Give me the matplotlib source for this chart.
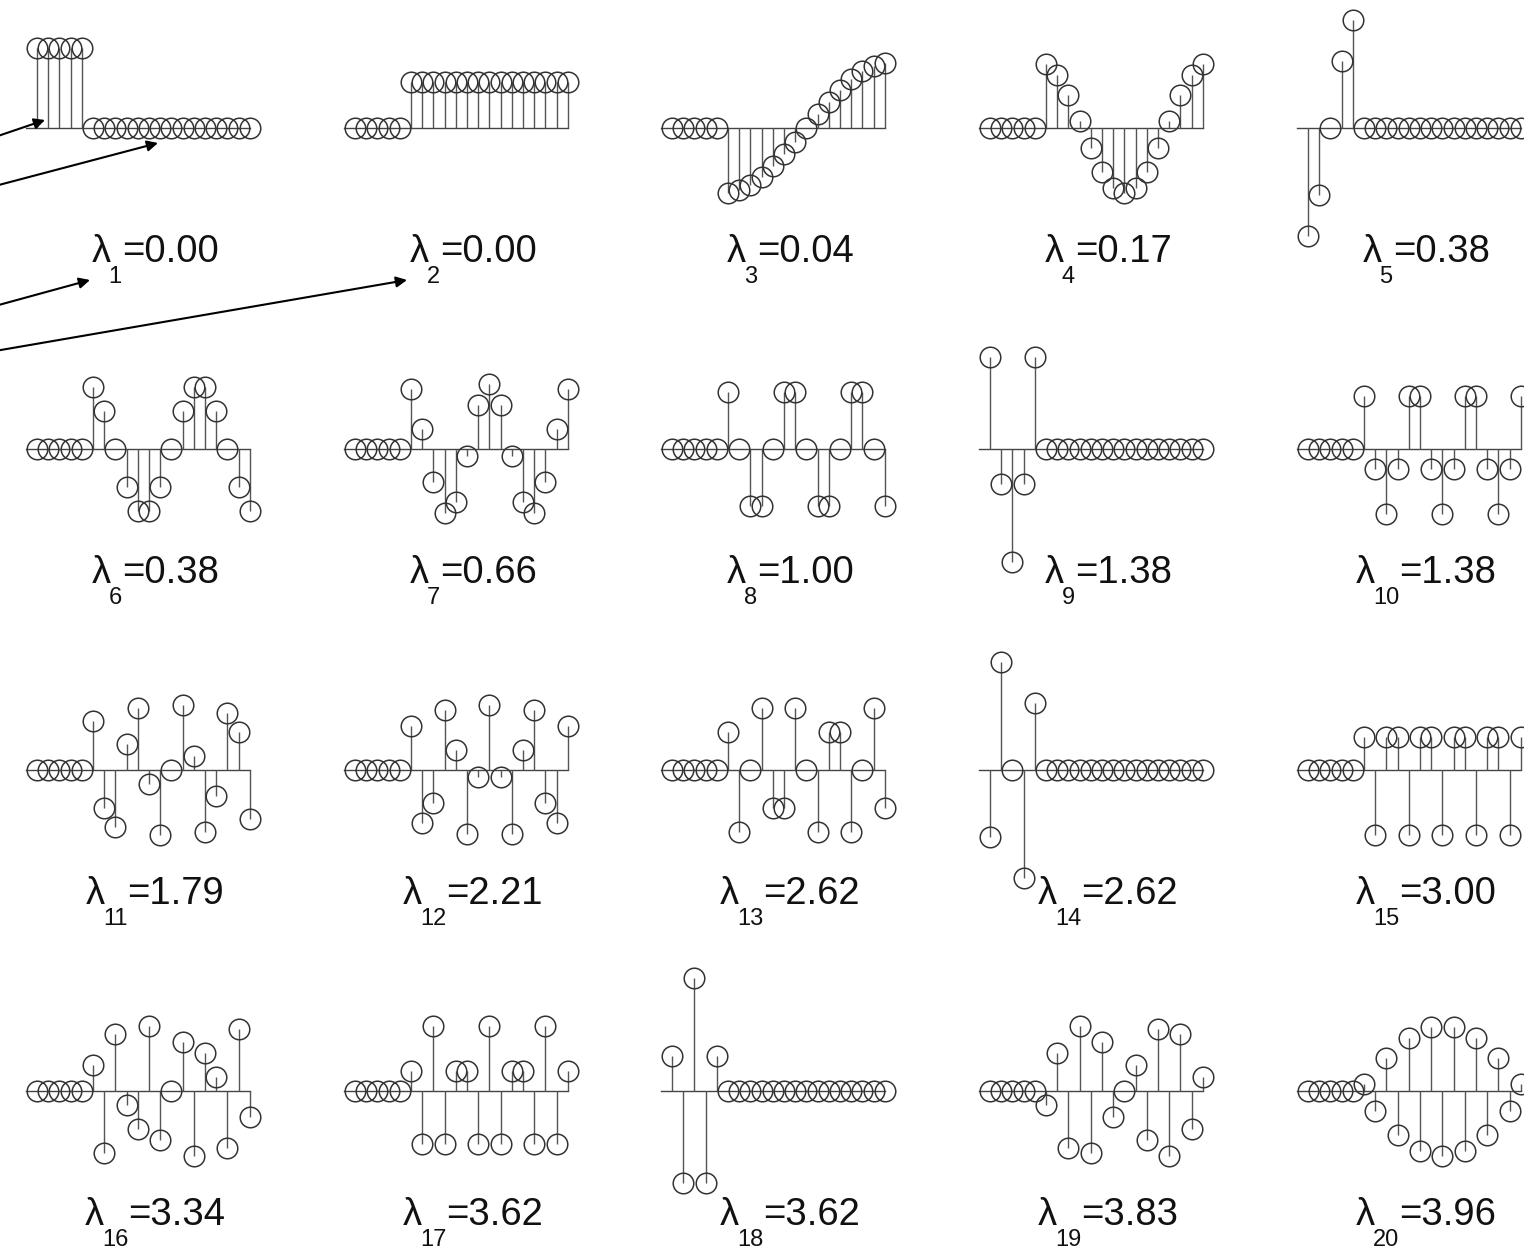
import matplotlib
matplotlib.use("Agg")
import matplotlib.pyplot as plt
import numpy as np

plt.rcParams['font.family'] = ['Liberation Sans', 'DejaVu Sans']

# Laplacian eigenvalues, ascending
eigenvalues = [0.00, 0.00, 0.04, 0.17, 0.38, 0.38, 0.66, 1.00, 1.38, 1.38,
               1.79, 2.21, 2.62, 2.62, 3.00, 3.34, 3.62, 3.62, 3.83, 3.96]

# eigenvectors: nodes 1-5 form the short chain, nodes 6-20 the long one
v1 = [0.447, 0.447, 0.447, 0.447, 0.447, 0, 0, 0, 0, 0,
      0, 0, 0, 0, 0, 0, 0, 0, 0, 0]
v2 = [0, 0, 0, 0, 0, 0.258, 0.258, 0.258, 0.258, 0.258,
      0.258, 0.258, 0.258, 0.258, 0.258, 0.258, 0.258, 0.258, 0.258, 0.258]
v3 = [0, 0, 0, 0, 0, -0.363, -0.347, -0.316, -0.271, -0.215,
      -0.148, -0.076, 0, 0.076, 0.148, 0.215, 0.271, 0.316, 0.347, 0.363]
v4 = [0, 0, 0, 0, 0, 0.357, 0.295, 0.183, 0.038, -0.113,
      -0.244, -0.334, -0.365, -0.334, -0.244, -0.113, 0.038, 0.183, 0.295, 0.357]
v5 = [-0.601, -0.372, 0, 0.372, 0.601, 0, 0, 0, 0, 0,
      0, 0, 0, 0, 0, 0, 0, 0, 0, 0]
v6 = [0, 0, 0, 0, 0, 0.347, 0.215, 0, -0.215, -0.347,
      -0.347, -0.215, 0, 0.215, 0.347, 0.347, 0.215, 0, -0.215, -0.347]
v7 = [0, 0, 0, 0, 0, 0.334, 0.113, -0.183, -0.357, -0.295,
      -0.038, 0.244, 0.365, 0.244, -0.038, -0.295, -0.357, -0.183, 0.113, 0.334]
v8 = [0, 0, 0, 0, 0, 0.316, 0, -0.316, -0.316, 0,
      0.316, 0.316, 0, -0.316, -0.316, 0, 0.316, 0.316, 0, -0.316]
v9 = [0.512, -0.195, -0.632, -0.195, 0.512, 0, 0, 0, 0, 0,
      0, 0, 0, 0, 0, 0, 0, 0, 0, 0]
v10 = [0, 0, 0, 0, 0, 0.295, -0.113, -0.365, -0.113, 0.295,
       0.295, -0.113, -0.365, -0.113, 0.295, 0.295, -0.113, -0.365, -0.113, 0.295]
v11 = [0, 0, 0, 0, 0, 0.271, -0.215, -0.316, 0.148, 0.347,
       -0.076, -0.363, 0, 0.363, 0.076, -0.347, -0.148, 0.316, 0.215, -0.271]
v12 = [0, 0, 0, 0, 0, 0.244, -0.295, -0.183, 0.334, 0.113,
       -0.357, -0.038, 0.365, -0.038, -0.357, 0.113, 0.334, -0.183, -0.295, 0.244]
v13 = [0, 0, 0, 0, 0, 0.215, -0.347, 0, 0.347, -0.215,
       -0.215, 0.347, 0, -0.347, 0.215, 0.215, -0.347, 0, 0.347, -0.215]
v14 = [-0.372, 0.601, 0, -0.601, 0.372, 0, 0, 0, 0, 0,
       0, 0, 0, 0, 0, 0, 0, 0, 0, 0]
v15 = [0, 0, 0, 0, 0, 0.183, -0.365, 0.183, 0.183, -0.365,
       0.183, 0.183, -0.365, 0.183, 0.183, -0.365, 0.183, 0.183, -0.365, 0.183]
v16 = [0, 0, 0, 0, 0, 0.148, -0.347, 0.316, -0.076, -0.215,
       0.363, -0.271, 0, 0.271, -0.363, 0.215, 0.076, -0.316, 0.347, -0.148]
v17 = [0, 0, 0, 0, 0, 0.113, -0.295, 0.365, -0.295, 0.113,
       0.113, -0.295, 0.365, -0.295, 0.113, 0.113, -0.295, 0.365, -0.295, 0.113]
v18 = [0.195, -0.512, 0.632, -0.512, 0.195, 0, 0, 0, 0, 0,
       0, 0, 0, 0, 0, 0, 0, 0, 0, 0]
v19 = [0, 0, 0, 0, 0, -0.076, 0.215, -0.316, 0.363, -0.347,
       0.271, -0.148, 0, 0.148, -0.271, 0.347, -0.363, 0.316, -0.215, 0.076]
v20 = [0, 0, 0, 0, 0, 0.038, -0.113, 0.183, -0.244, 0.295,
       -0.334, 0.357, -0.365, 0.357, -0.334, 0.295, -0.244, 0.183, -0.113, 0.038]

vectors = [v1, v2, v3, v4, v5, v6, v7, v8, v9, v10,
           v11, v12, v13, v14, v15, v16, v17, v18, v19, v20]

W, H = 1524, 1249
fig = plt.figure(figsize=(W / 100, H / 100), dpi=100)

col_x = [37, 355, 672, 990, 1308]   # pixel x of node 1 in each column
row_y = [128, 449, 770, 1091]       # pixel y of the zero line in each row
step = 11.2                         # pixels between nodes
scale = 179.0                       # pixels per unit amplitude
ylim = 0.8

nodes = np.arange(1, 21)

for i, vec in enumerate(vectors):
    r, c = divmod(i, 5)
    left = col_x[c] - step
    bottom = H - row_y[r] - ylim * scale
    ax = fig.add_axes([left / W, bottom / H, 20 * step / W, 2 * ylim * scale / H])
    ax.set_xlim(0, 20)
    ax.set_ylim(-ylim, ylim)
    ax.axis('off')

    ax.plot([0, 20], [0, 0], color='#444444', lw=1.0, clip_on=False)
    ax.vlines(nodes, 0, vec, colors='#555555', lw=1.0, clip_on=False)
    ax.plot(nodes, vec, 'o', mfc='none', mec='#333333', ms=14.8, mew=1.1,
            clip_on=False)

# overlay in pixel coordinates (y down) for labels and arrows
overlay = fig.add_axes([0, 0, 1, 1])
overlay.set_xlim(0, W)
overlay.set_ylim(H, 0)
overlay.axis('off')

# λ labels: subscript set by hand so it sits well below the baseline
renderer = fig.canvas.get_renderer()
big, small = 27.5, 17
for i, lam in enumerate(eigenvalues):
    r, c = divmod(i, 5)
    cx = col_x[c] + 118
    by = row_y[r] + 134
    parts = [overlay.text(0, by, 'λ', fontsize=big, color='#111111', va='baseline'),
             overlay.text(0, by + 21, str(i + 1), fontsize=small, color='#111111',
                          va='baseline'),
             overlay.text(0, by, f'={lam:.2f}', fontsize=big, color='#111111',
                          va='baseline')]
    widths = [p.get_window_extent(renderer).width for p in parts]
    gaps = [-2, 0]
    total = sum(widths) + sum(gaps)
    x = cx - total / 2
    for p, w, g in zip(parts, widths, gaps + [0]):
        p.set_x(x)
        x += w + g

# pointer arrows coming in from the left margin
arrow_tails = [(-5, 137), (-5, 186), (-5, 306), (-5, 351)]
arrow_heads = [(45, 120), (158, 143), (90, 280), (407, 280)]
for tail, head in zip(arrow_tails, arrow_heads):
    overlay.annotate('', xy=head, xytext=tail,
                     arrowprops=dict(arrowstyle='-|>', color='black', lw=1.5,
                                     mutation_scale=16, shrinkA=0, shrinkB=0))

fig.savefig('out.png', dpi=100)
